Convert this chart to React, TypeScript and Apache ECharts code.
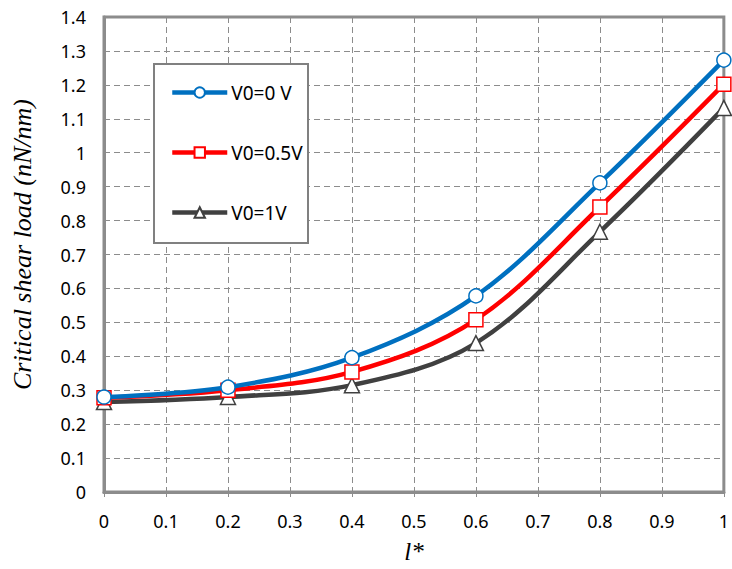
import React, { useEffect, useRef } from "react";
import * as echarts from "echarts";

const xValues = [0, 0.2, 0.4, 0.6, 0.8, 1];
const seriesNames = ["V0=0 V", "V0=0.5V", "V0=1V"];
const v0_0 = [0.28, 0.309, 0.396, 0.578, 0.911, 1.273];
const v0_05 = [0.278, 0.3, 0.354, 0.508, 0.84, 1.202];
const v0_1 = [0.265, 0.28, 0.315, 0.439, 0.767, 1.132];
const colors = ["#0070C0", "#FF0000", "#404040"];
const symbols = ["circle", "rect", "triangle"];

export default function App() {
  const ref = useRef<HTMLDivElement>(null);
  useEffect(() => {
    document.body.style.margin = "0";
    const chart = echarts.init(ref.current!, null, { renderer: "svg" });
    const all = [v0_0, v0_05, v0_1];
    chart.setOption({
      animation: false,
      backgroundColor: "#fff",
      grid: {
        left: 104,
        right: 5,
        top: 17,
        bottom: 77,
        show: true,
        borderColor: "#8c8c8c",
        borderWidth: 3,
      },
      graphic: [
        {
          type: "rect",
          left: 153,
          top: 63,
          shape: { width: 154, height: 179 },
          style: { fill: "#fff", stroke: "#808080", lineWidth: 2 },
          z: 5,
        },
      ],
      legend: {
        orient: "vertical",
        left: 170,
        top: 83,
        padding: 0,
        itemGap: 41,
        itemWidth: 55,
        itemHeight: 13,
        z: 6,
        lineStyle: { width: 4.5 },
        textStyle: { fontFamily: "Noto Sans", fontSize: 19, color: "#000", padding: [0, 0, 0, -1] },
        data: seriesNames,
      },
      xAxis: {
        type: "value",
        min: 0,
        max: 1,
        interval: 0.1,
        name: "l*",
        nameLocation: "middle",
        nameGap: 47,
        nameTextStyle: {
          fontFamily: "Liberation Serif",
          fontStyle: "italic",
          fontSize: 25,
          color: "#000",
        },
        axisLine: { show: true, lineStyle: { color: "#8c8c8c", width: 3 } },
        axisTick: { show: true, inside: false, length: 5, lineStyle: { color: "#8c8c8c" } },
        axisLabel: { fontFamily: "Noto Sans", fontSize: 18, color: "#000", margin: 20 },
        splitLine: { show: true, lineStyle: { color: "#8c8c8c", type: [6, 4], width: 1 } },
      },
      yAxis: {
        type: "value",
        min: 0,
        max: 1.4,
        interval: 0.1,
        name: "Critical shear load (nN/nm)",
        nameLocation: "middle",
        nameGap: 69,
        nameTextStyle: {
          fontFamily: "Liberation Serif",
          fontStyle: "italic",
          fontSize: 26,
          color: "#000",
          padding: [0, 0, 0, 20],
        },
        axisLine: { show: true, lineStyle: { color: "#8c8c8c", width: 3 } },
        axisTick: { show: false },
        axisLabel: { fontFamily: "Noto Sans", fontSize: 18, color: "#000", margin: 18 },
        splitLine: { show: true, lineStyle: { color: "#8c8c8c", type: [6, 4], width: 1 } },
      },
      series: seriesNames.map((name, i) => ({
        name,
        type: "line",
        smooth: 0.35,
        data: xValues.map((x, j) => [x, all[i][j]]),
        symbol: symbols[i],
        symbolSize: i === 2 ? 15 : 14,
        showAllSymbol: true,
        lineStyle: { color: colors[i], width: 4.5 },
        itemStyle: {
          color: "#fff",
          borderColor: colors[i],
          borderWidth: 1.5,
        },
        z: 3 - i,
      })),
    });
    return () => chart.dispose();
  }, []);
  return <div ref={ref} style={{ width: 732, height: 569 }} />;
}
